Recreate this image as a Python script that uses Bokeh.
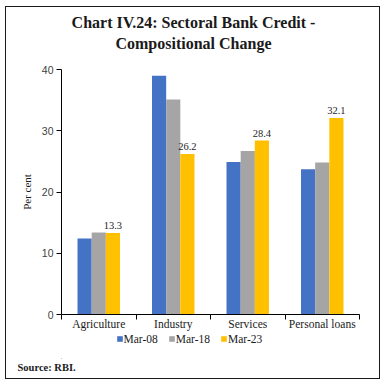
from bokeh.plotting import figure
from bokeh.layouts import column
from bokeh.models import (ColumnDataSource, Range1d, FixedTicker, Legend, LegendItem,
                          LabelSet, Label, Title)
from bokeh.embed import file_html
from bokeh.resources import INLINE

categories = ["Agriculture", "Industry", "Services", "Personal loans"]
series = ["Mar-08", "Mar-18", "Mar-23"]
mar08 = [12.4, 39.0, 24.9, 23.7]
mar18 = [13.4, 35.1, 26.7, 24.8]
mar23 = [13.3, 26.2, 28.4, 32.1]
y_ticks = [0, 10, 20, 30, 40]
colors = ["#4472C4", "#A5A5A5", "#FFC000"]
title_lines = ["Chart IV.24: Sectoral Bank Credit -", "Compositional Change"]
source_text = "Source: RBI."

FW, FH = 298, 245     # plot frame
BL, BR = 55, 20       # side borders shared by all three strips
TOP_H = 52            # title strip height
TXT = "#1a1a1a"


def strip(h, bottom=0):
    f = figure(frame_width=FW, frame_height=h, output_backend="svg", toolbar_location=None,
               x_range=Range1d(0, FW), y_range=Range1d(0, h),
               min_border_left=BL, min_border_right=BR, min_border_top=0,
               min_border_bottom=bottom, x_axis_type=None, y_axis_type=None)
    f.outline_line_color = None
    f.grid.grid_line_color = None
    f.background_fill_color = "white"
    f.border_fill_color = "white"
    return f


# ---- title strip
pt = strip(TOP_H)
pt.add_layout(Label(x=132, y=TOP_H - 15, text=title_lines[0], text_align="center",
                    text_baseline="middle", text_font="Liberation Serif",
                    text_font_style="bold", text_font_size="16px", text_color=TXT))
pt.add_layout(Label(x=132, y=TOP_H - 36, text=title_lines[1], text_align="center",
                    text_baseline="middle", text_font="Liberation Serif",
                    text_font_style="bold", text_font_size="16px", text_color=TXT))

# ---- main chart
p = figure(frame_width=FW, frame_height=FH, output_backend="svg", toolbar_location=None,
           x_range=Range1d(0, 4), y_range=Range1d(0, 40),
           min_border_left=BL, min_border_right=BR, min_border_top=10, min_border_bottom=18)
p.outline_line_color = None
p.xgrid.grid_line_color = None
p.ygrid.grid_line_color = None
p.background_fill_color = "white"
p.border_fill_color = "white"

bw = 0.19
offsets = [-bw, 0.0, bw]
sources = []
for vals, off, col in zip([mar08, mar18, mar23], offsets, colors):
    xs = [i + 0.5 + off for i in range(len(categories))]
    src = ColumnDataSource(dict(x=xs, top=vals))
    sources.append(src)
    p.vbar(x="x", top="top", width=bw, source=src, fill_color=col, line_color=None)

lab_src = ColumnDataSource(dict(x=[i + 0.5 + bw for i in range(len(categories))], y=mar23,
                                t=["%.1f" % v for v in mar23]))
p.add_layout(LabelSet(x="x", y="y", text="t", source=lab_src, text_align="center",
                      text_baseline="bottom", y_offset=4, text_font="Liberation Sans",
                      text_font_size="10.5px", text_color="#262626"))

xa = p.xaxis[0]
xa.ticker = FixedTicker(ticks=[0.5, 1.5, 2.5, 3.5], minor_ticks=[0, 1, 2, 3, 4])
xa.major_label_overrides = {0.5 + i: c for i, c in enumerate(categories)}
xa.major_tick_line_color = None
xa.major_tick_out = 0
xa.major_tick_in = 0
xa.minor_tick_out = 5
xa.minor_tick_in = 0
xa.minor_tick_line_color = "black"
xa.axis_line_color = "black"
xa.major_label_standoff = -2
xa.major_label_text_font = "Liberation Serif"
xa.major_label_text_font_size = "11.5px"
xa.major_label_text_color = TXT

ya = p.yaxis[0]
ya.ticker = FixedTicker(ticks=y_ticks)
ya.minor_tick_line_color = None
ya.major_tick_out = 5
ya.major_tick_in = 0
ya.axis_line_color = "black"
ya.major_tick_line_color = "black"
ya.major_label_standoff = 3
ya.major_label_text_font = "Liberation Sans"
ya.major_label_text_font_size = "10.5px"
ya.major_label_text_color = "#404040"
ya.axis_label = "Per cent"
ya.axis_label_text_font = "Liberation Serif"
ya.axis_label_text_font_style = "normal"
ya.axis_label_text_font_size = "11px"
ya.axis_label_text_color = TXT
ya.axis_label_standoff = 6

# ---- legend + source strip
LEG_H = 26
pb = strip(LEG_H, bottom=20)
# legend swatches: the same series, mapped onto ranges that keep them off the strip
pb.extra_x_ranges = {"swatch": Range1d(100, 104)}
pb.extra_y_ranges = {"swatch": Range1d(1000, 1004)}
swatches = [pb.vbar(x="x", top="top", width=bw, source=src, fill_color=c, line_color=None,
                    x_range_name="swatch", y_range_name="swatch")
            for src, c in zip(sources, colors)]
legend = Legend(items=[LegendItem(label=s, renderers=[r]) for s, r in zip(series, swatches)],
                orientation="horizontal", location=(55, 13), padding=0, margin=0,
                spacing=10, glyph_width=7, glyph_height=7, label_standoff=1,
                label_height=12, border_line_color=None, background_fill_alpha=0,
                label_text_font="Liberation Serif", label_text_font_size="11.5px",
                label_text_color=TXT)
pb.add_layout(legend)
pb.add_layout(Title(text=source_text, align="left", offset=-44, standoff=2,
                    text_font="Liberation Serif", text_font_style="bold",
                    text_font_size="10.5px", text_color=TXT), "below")

layout = column(pt, p, pb, spacing=0)
layout.styles = {"border": "1.5px solid #1a1a1a", "margin-left": "4.5px", "margin-top": "5.5px"}

open("out.html", "w").write(file_html(layout, INLINE))
